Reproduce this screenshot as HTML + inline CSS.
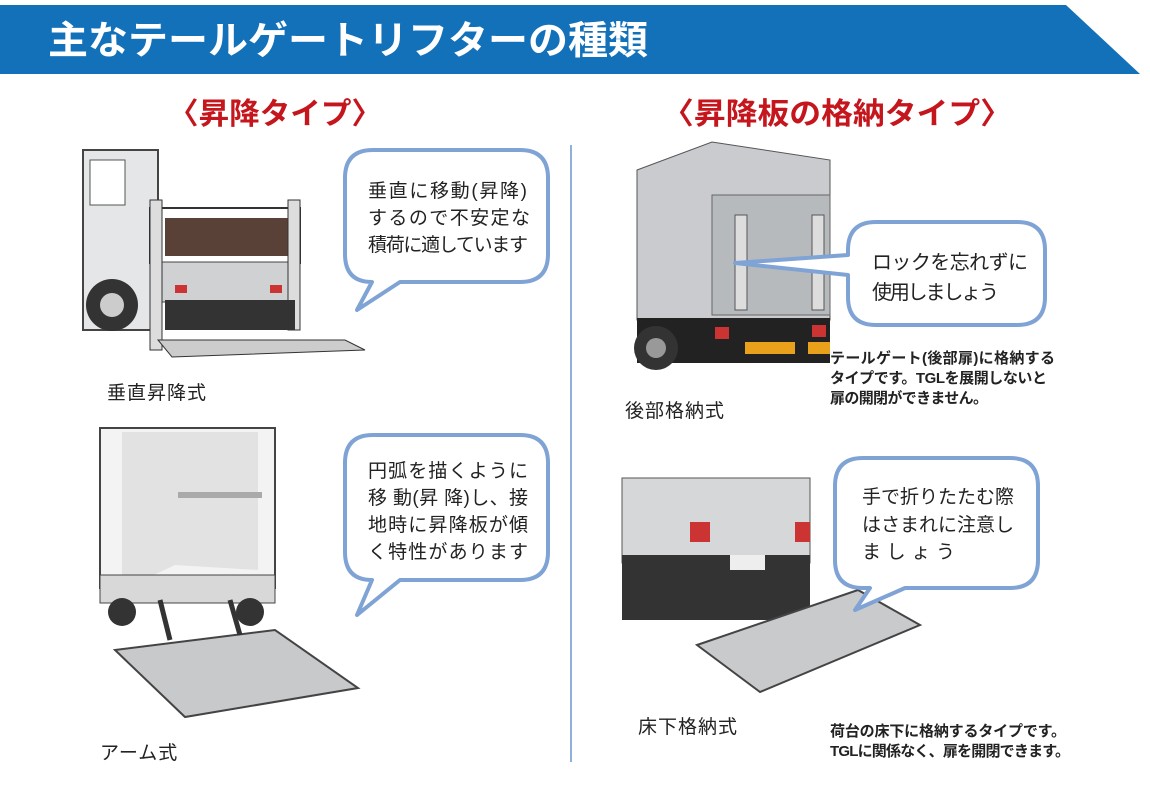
<!DOCTYPE html>
<html><head><meta charset="utf-8"><style>
html,body{margin:0;padding:0;background:#fff;}
svg{display:block}
text{font-family:"Liberation Sans","Noto Sans CJK JP",sans-serif;}
</style></head><body>
<svg width="1150" height="786" viewBox="0 0 1150 786" xmlns="http://www.w3.org/2000/svg">
<polygon points="0,5 1066,5 1140,74 0,74" fill="#1371b9"/>
<text x="48" y="54" font-size="39" font-weight="bold" fill="#fff" textLength="600" lengthAdjust="spacingAndGlyphs">主なテールゲートリフターの種類</text>
<text x="168" y="124" font-size="30" font-weight="bold" fill="#c4161c" textLength="214" lengthAdjust="spacingAndGlyphs">〈昇降タイプ〉</text>
<text x="662" y="124" font-size="30" font-weight="bold" fill="#c4161c" textLength="350" lengthAdjust="spacingAndGlyphs">〈昇降板の格納タイプ〉</text>
<line x1="571" y1="145" x2="571" y2="762" stroke="#8fb0d8" stroke-width="2"/>

<!-- truck 1 -->
<rect x="83" y="150" width="75" height="180" fill="#e4e6e8" stroke="#444" stroke-width="2"/>
<rect x="90" y="160" width="35" height="45" fill="#fff" stroke="#555"/>
<rect x="150" y="208" width="150" height="55" fill="#fff" stroke="#333" stroke-width="2"/>
<rect x="165" y="218" width="130" height="38" fill="#5a4138"/>
<rect x="160" y="262" width="140" height="40" fill="#cfd1d3" stroke="#444"/>
<rect x="150" y="200" width="12" height="150" fill="#ddd" stroke="#333"/>
<rect x="288" y="200" width="12" height="130" fill="#ddd" stroke="#333"/>
<rect x="165" y="300" width="130" height="30" fill="#333"/>
<circle cx="112" cy="305" r="26" fill="#333"/><circle cx="112" cy="305" r="12" fill="#ccc"/>
<polygon points="158,340 345,340 365,350 172,357" fill="#ccc" stroke="#333"/>
<rect x="175" y="285" width="12" height="8" fill="#c33"/><rect x="270" y="285" width="12" height="8" fill="#c33"/>

<!-- truck 2 -->
<rect x="100" y="428" width="175" height="160" fill="#f3f3f3" stroke="#444" stroke-width="2"/>
<polygon points="122,432 258,432 258,570 175,565 122,590" fill="#e2e2e2"/>
<rect x="178" y="492" width="84" height="6" fill="#aaa"/>
<rect x="100" y="575" width="175" height="28" fill="#d8d8d8" stroke="#444"/>
<circle cx="122" cy="612" r="14" fill="#333"/><circle cx="250" cy="612" r="14" fill="#333"/>
<polygon points="115,650 275,630 358,688 185,717" fill="#c8c9cb" stroke="#444" stroke-width="2"/>
<line x1="160" y1="600" x2="170" y2="640" stroke="#333" stroke-width="5"/>
<line x1="230" y1="600" x2="240" y2="635" stroke="#333" stroke-width="5"/>

<!-- truck 3 -->
<polygon points="637,170 712,142 830,160 830,320 637,320" fill="#c9cbce" stroke="#555"/>
<rect x="712" y="195" width="118" height="120" fill="#b7babd" stroke="#666"/>
<rect x="735" y="215" width="12" height="95" fill="#ddd" stroke="#555"/>
<rect x="812" y="215" width="12" height="95" fill="#ddd" stroke="#555"/>
<rect x="637" y="318" width="193" height="45" fill="#222"/>
<circle cx="656" cy="348" r="22" fill="#333"/><circle cx="656" cy="348" r="10" fill="#999"/>
<rect x="745" y="342" width="50" height="12" fill="#e9a11b"/>
<rect x="808" y="342" width="22" height="12" fill="#e9a11b"/>
<rect x="715" y="327" width="14" height="12" fill="#c33"/><rect x="812" y="325" width="14" height="12" fill="#c33"/>

<!-- truck 4 -->
<rect x="622" y="478" width="188" height="85" fill="#d6d7d9" stroke="#555"/>
<rect x="622" y="555" width="188" height="65" fill="#333"/>
<rect x="690" y="522" width="20" height="20" fill="#c33"/><rect x="795" y="522" width="15" height="20" fill="#c33"/>
<rect x="730" y="555" width="35" height="15" fill="#eee"/>
<polygon points="697,645 858,590 920,625 760,692" fill="#c9cacc" stroke="#444" stroke-width="2"/>

<!-- bubbles -->
<g fill="#fff" stroke="#7fa3d4" stroke-width="4" stroke-linejoin="round">
<path d="M373,150 H520 Q548,150 548,178 V254 Q548,282 520,282 H400 L357,310 L372,282 Q345,282 345,254 V178 Q345,150 373,150 Z"/>
<path d="M373,435 H520 Q548,435 548,463 V552 Q548,580 520,580 H400 L357,615 L372,580 Q345,580 345,552 V463 Q345,435 373,435 Z"/>
<path d="M876,222 H1017 Q1045,222 1045,250 V297 Q1045,325 1017,325 H876 Q848,325 848,297 V275 L735,263 L848,255 V250 Q848,222 876,222 Z"/>
<path d="M863,458 H1010 Q1038,458 1038,486 V560 Q1038,588 1010,588 H905 L855,610 L870,588 H863 Q835,588 835,560 V486 Q835,458 863,458 Z"/>
</g>
<g font-size="19" fill="#222">
<text x="368" y="197" textLength="159">垂直に移動(昇降)</text>
<text x="368" y="224" textLength="162">するので不安定な</text>
<text x="368" y="251" textLength="160">積荷に適しています</text>
<text x="368" y="477" textLength="160">円弧を描くように</text>
<text x="368" y="504" textLength="160">移 動(昇 降)し、接</text>
<text x="368" y="531" textLength="160">地時に昇降板が傾</text>
<text x="368" y="558" textLength="160">く特性があります</text>
<text x="872" y="269" font-size="20" textLength="156">ロックを忘れずに</text>
<text x="872" y="299" font-size="20" textLength="127">使用しましょう</text>
<text x="862" y="503" textLength="152">手で折りたたむ際</text>
<text x="862" y="531" textLength="152">はさまれに注意し</text>
<text x="862" y="558" textLength="93">ましょう</text>
</g>
<g font-size="19" fill="#222" letter-spacing="1">
<text x="107" y="399">垂直昇降式</text>
<text x="100" y="759">アーム式</text>
<text x="625" y="417">後部格納式</text>
<text x="638" y="733">床下格納式</text>
</g>
<g font-size="15" font-weight="bold" fill="#222">
<text x="830" y="363" textLength="225">テールゲート(後部扉)に格納する</text>
<text x="830" y="383" textLength="217">タイプです。TGLを展開しないと</text>
<text x="830" y="403" textLength="158">扉の開閉ができません。</text>
<text x="830" y="736" textLength="236">荷台の床下に格納するタイプです。</text>
<text x="830" y="756" textLength="240">TGLに関係なく、扉を開閉できます。</text>
</g>
</svg>
</body></html>
